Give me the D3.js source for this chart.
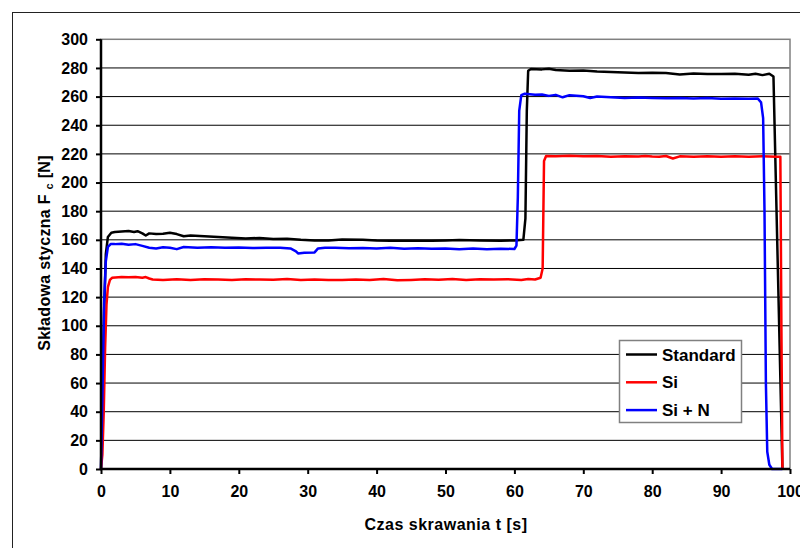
<!DOCTYPE HTML>
<html lang="pl">
<head>
<meta charset="utf-8">
<title>Składowa styczna Fc</title>
<style>
html, body {
    margin: 0;
    padding: 0;
    background: #fff;
 }

svg text {
    font-family: "Liberation Sans", Arial, sans-serif;
    font-weight: bold;
    fill: #000;
 }

.grid line {
    stroke: #000;
    stroke-width: 1;
 }

.axis path { display: none; }
.axis line { stroke: #000; stroke-width: 2; }
.axis text { font-size: 16px; }

.series {
    fill: none;
    stroke-width: 2.5;
    stroke-linejoin: round;
 }
</style>
</head>
<body>

<script src="https://cdnjs.cloudflare.com/ajax/libs/d3/7.8.5/d3.min.js"></script>
<script>
(function() {
'use strict';

// Data: [t (s), Fc (N)]
const standard = [
  [0,0],[0.2,50],[0.45,110],[0.7,150],[1.0,162],[1.5,165],[2,165.5],[3,165.8],[4,166.2],
  [4.8,165.5],[5.3,166],[6,164.5],[6.5,163],[7,164.5],[8,164],[9,164.2],[10,165],[11,164],
  [12,162.5],[13,163],[15,162.5],[17,162],[19,161.5],[21,161],[23,161.3],[25,160.5],
  [27,160.8],[29,160],[31,159.5],[33,159.6],[35,160.2],[38,160],[40,159.5],[42,159.3],
  [45,159.4],[48,159.4],[50,159.5],[52,159.8],[55,159.5],[58,159.4],[60,159.5],[61.3,160],
  [61.6,175],[61.8,250],[62,278],[62.4,279.3],[64,279],[65,279.5],[66,278.5],[68,278],
  [70,278.2],[72,277.5],[74,277.2],[76,276.8],[78,276.5],[80,276.7],[82,276.4],[84,275.5],
  [86,276.2],[88,275.8],[90,275.7],[92,276],[94,275.2],[95,276],[96,275],[97,276],
  [97.6,274],[98.9,0]
];

const si = [
  [0,0],[0.2,10],[0.4,40],[0.6,85],[0.8,115],[1.0,127],[1.3,132],[1.6,133.5],[3,134],
  [4,133.8],[5,134],[6,133.5],[6.5,134],[7,133],[7.5,132.3],[9,132],[11,132.5],[13,132],
  [15,132.5],[17,132.3],[19,132],[21,132.5],[23,132.3],[25,132.2],[27,132.7],[29,132],
  [31,132.3],[33,132],[35,131.9],[37,132.3],[39,132],[41,132.6],[43,131.7],[45,132],
  [47,132.4],[49,132.2],[51,132.6],[53,132],[55,132.4],[57,132.3],[59,132.5],[61,132],
  [62,132.6],[63,132.3],[63.8,133.5],[64.1,140],[64.3,215],[64.6,218.5],[66,218.3],
  [68,218.7],[70,218.3],[72,218.5],[74,218],[76,218.3],[78,218.2],[79,218.6],[80,218.2],
  [81,218],[82,218.5],[83,216.8],[84,218.3],[86,218],[88,218.3],[90,218],[92,218.4],
  [94,218],[96,218.3],[98,218],[98.6,218],[98.75,100],[98.9,0]
];

const siN = [
  [0,0],[0.2,50],[0.45,115],[0.7,145],[1.0,155],[1.4,157],[2,157],[3,157.2],[4,156.5],
  [5,157],[6,155.8],[7,154.5],[8,154],[9,154.8],[10,154.5],[11,153.5],[12,155],[14,154.5],
  [16,154.8],[18,154.5],[20,154.7],[22,154.3],[24,154.5],[26,154.5],[27.5,154],[28.3,152],
  [28.6,150.5],[29.5,151],[31,151.2],[31.5,154],[32.5,154.5],[34,154.5],[36,154.2],
  [38,154.3],[40,154],[42,154.4],[44,153.7],[46,154.2],[48,153.8],[50,154],[52,153.5],
  [54,154],[56,153.5],[58,153.8],[60,153.6],[60.3,156],[60.5,190],[60.7,250],[61,261],
  [61.5,262],[63,261.3],[64,261.5],[65,260.5],[66,261.2],[67,259.5],[68,261],[70,260.2],
  [71,259],[72,260],[74,259.5],[76,259],[78,259.3],[80,259],[82,258.8],[84,259],
  [86,258.7],[88,259],[90,258.5],[92,258.7],[94,258.5],[95.3,258.7],[95.8,256],[96.1,245],
  [96.3,180],[96.5,60],[96.7,12],[97,3],[97.4,0],[98.9,0]
];

const seriesNames = ['Standard', 'Si', 'Si + N'];
const seriesColors = ['#000000', '#ff0000', '#0000ff'];
const xTicks = [0, 10, 20, 30, 40, 50, 60, 70, 80, 90, 100];
const yTicks = [0, 20, 40, 60, 80, 100, 120, 140, 160, 180, 200, 220, 240, 260, 280, 300];

// Layout
const width = 800, height = 548;
const plot = { left: 101, right: 790, top: 39.3, bottom: 469 };

const svg = d3.select('body').append('svg')
  .attr('width', width)
  .attr('height', height);

// outer chart border, runs off the right and bottom edges as in the picture
svg.append('rect')
  .attr('x', 12.5).attr('y', 12.5)
  .attr('width', 820).attr('height', 580)
  .attr('fill', '#fff')
  .attr('stroke', '#222')
  .attr('stroke-width', 1);

const x = d3.scaleLinear().domain([0, 100]).range([plot.left, plot.right]);
const y = d3.scaleLinear().domain([0, 300]).range([plot.bottom, plot.top]);

// gridlines
svg.append('g').attr('class', 'grid')
  .selectAll('line')
  .data(yTicks.filter(d => d > 0 && d < 300))
  .enter().append('line')
  .attr('x1', plot.left).attr('x2', plot.right)
  .attr('y1', d => y(d)).attr('y2', d => y(d));

// plot area border (grey)
svg.append('rect')
  .attr('x', plot.left).attr('y', y(300))
  .attr('width', plot.right - plot.left)
  .attr('height', plot.bottom - y(300))
  .attr('fill', 'none')
  .attr('stroke', '#808080')
  .attr('stroke-width', 1.5);

// series, black first so blue ends on top
const line = d3.line().x(d => x(d[0])).y(d => y(d[1]));
[standard, si, siN].forEach((data, i) => {
  svg.append('path')
    .datum(data)
    .attr('class', 'series')
    .attr('stroke', seriesColors[i])
    .attr('d', line);
});

// axes
svg.append('g').attr('class', 'axis')
  .attr('transform', 'translate(' + plot.left + ',0)')
  .call(d3.axisLeft(y).tickValues(yTicks).tickSize(5).tickPadding(8));

svg.append('g').attr('class', 'axis')
  .attr('transform', 'translate(0,' + plot.bottom + ')')
  .call(d3.axisBottom(x).tickValues(xTicks).tickSize(5).tickPadding(12));

svg.append('line')
  .attr('x1', plot.left).attr('x2', plot.left)
  .attr('y1', y(300)).attr('y2', plot.bottom + 1)
  .attr('stroke', '#000').attr('stroke-width', 2.5);
svg.append('line')
  .attr('x1', plot.left - 1).attr('x2', plot.right)
  .attr('y1', plot.bottom).attr('y2', plot.bottom)
  .attr('stroke', '#000').attr('stroke-width', 2.5);

// axis titles
svg.append('text')
  .attr('x', 446).attr('y', 530)
  .attr('text-anchor', 'middle')
  .style('font-size', '16px')
  .style('letter-spacing', '0.5px')
  .text('Czas skrawania t [s]');

const yTitle = svg.append('text')
  .attr('transform', 'translate(50,253) rotate(-90)')
  .attr('text-anchor', 'middle')
  .style('font-size', '16px')
  .style('letter-spacing', '0.3px');
yTitle.append('tspan').text('Składowa styczna F ');
yTitle.append('tspan').attr('dy', 3).style('font-size', '11px').text('c');
yTitle.append('tspan').attr('dy', -3).text(' [N]');

// legend
const legend = svg.append('g').attr('transform', 'translate(619,340)');
legend.append('rect')
  .attr('x', 0.5).attr('y', 0.5)
  .attr('width', 122).attr('height', 82)
  .attr('fill', '#fff')
  .attr('stroke', '#808080')
  .attr('stroke-width', 1.5);

const items = legend.selectAll('g.item')
  .data(seriesNames)
  .enter().append('g')
  .attr('class', 'item')
  .attr('transform', (d, i) => 'translate(0,' + (14.5 + i * 27.8) + ')');
items.append('line')
  .attr('x1', 7).attr('x2', 38)
  .attr('stroke', (d, i) => seriesColors[i])
  .attr('stroke-width', 2.5);
items.append('text')
  .attr('x', 43).attr('y', 6)
  .style('font-size', '17px')
  .text(d => d);

}());
</script>
</body>
</html>
